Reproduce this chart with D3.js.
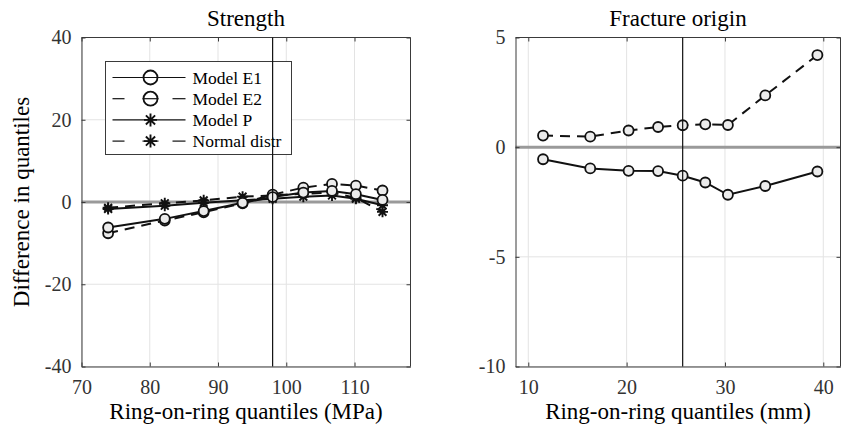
<!DOCTYPE html>
<html>
<head>
<meta charset="utf-8">
<script src="https://cdn.jsdelivr.net/npm/d3@7"></script>
<style>
  body { margin: 0; background: #fff; }
</style>
</head>
<body>
<svg id="chart" width="846" height="430" font-family="Liberation Serif"></svg>
<script>
// strength panel (MPa)
const strengthX = [73.9, 82.2, 87.9, 93.6, 98.0, 102.5, 106.7, 110.2, 114.1];
const strengthE1 = [-6.2, -4.1, -2.2, -0.2, 1.2, 2.3, 2.7, 1.9, 0.5];
const strengthE2 = [-7.6, -4.5, -2.5, -0.3, 1.8, 3.5, 4.4, 4.0, 2.8];
const strengthP = [-1.7, -0.9, -0.2, 0.4, 0.8, 1.3, 1.6, 0.8, -0.8];
const strengthNormal = [-1.4, -0.3, 0.4, 1.3, 1.6, 2.0, 2.3, 1.0, -2.4];
const strengthMedian = 98.0;

// fracture origin panel (mm)
const originX = [11.5, 16.3, 20.2, 23.2, 25.7, 28.0, 30.3, 34.1, 39.4];
const originE1 = [-0.55, -0.97, -1.08, -1.09, -1.30, -1.61, -2.17, -1.77, -1.11];
const originE2 = [0.53, 0.48, 0.76, 0.92, 1.0, 1.04, 1.01, 2.36, 4.2];
const originMedian = 25.7;

const strengthXTicks = [70, 80, 90, 100, 110];
const strengthYTicks = [-40, -20, 0, 20, 40];
const originXTicks = [10, 20, 30, 40];
const originYTicks = [-10, -5, 0, 5];

const legendLabels = ['Model E1', 'Model E2', 'Model P', 'Normal distr'];

const svg = d3.select('#chart');
const serif = 'Liberation Serif';
const axisColor = '#3a3a3a';
const dash = '10,7';

const starPath = r => {
  const d = r * 0.7071;
  return `M0,${-r}L0,${r}M${-r},0L${r},0M${-d},${-d}L${d},${d}M${-d},${d}L${d},${-d}`;
};

const drawMarker = (g, x, y, type, r, fill) => {
  if (type === 'circle') {
    g.append('circle')
      .attr('cx', x)
      .attr('cy', y)
      .attr('r', r)
      .attr('fill', fill)
      .attr('stroke', '#111')
      .attr('stroke-width', 1.8);
  } else {
    g.append('path')
      .attr('transform', `translate(${x},${y})`)
      .attr('d', starPath(r))
      .attr('fill', 'none')
      .attr('stroke', '#111')
      .attr('stroke-width', 1.9);
  }
};

const medianLines = [];

const drawPanel = opts => {
  const { left, right, top, bottom, xDomain, yDomain, xTicks, yTicks } = opts;
  const x = d3.scaleLinear().domain(xDomain).range([left, right]);
  const y = d3.scaleLinear().domain(yDomain).range([bottom, top]);
  const g = svg.append('g');

  // grid
  g.selectAll('line.gx')
    .data(xTicks)
    .enter()
    .append('line')
    .attr('x1', d => x(d))
    .attr('x2', d => x(d))
    .attr('y1', top)
    .attr('y2', bottom)
    .attr('stroke', '#e3e3e3');
  g.selectAll('line.gy')
    .data(yTicks)
    .enter()
    .append('line')
    .attr('x1', left)
    .attr('x2', right)
    .attr('y1', d => y(d))
    .attr('y2', d => y(d))
    .attr('stroke', '#e3e3e3');

  // zero line
  g.append('line')
    .attr('x1', left)
    .attr('x2', right)
    .attr('y1', y(0))
    .attr('y2', y(0))
    .attr('stroke', '#9a9a9a')
    .attr('stroke-width', 3);

  // axes (plain hyphen for negatives, like the original)
  const fmt = d => String(d);
  const xAxis = g.append('g')
    .attr('transform', `translate(0,${bottom})`)
    .call(d3.axisBottom(x).tickValues(xTicks).tickFormat(fmt).tickSizeInner(-4).tickSizeOuter(0).tickPadding(13));
  const yAxis = g.append('g')
    .attr('transform', `translate(${left},0)`)
    .call(d3.axisLeft(y).tickValues(yTicks).tickFormat(fmt).tickSizeInner(-4).tickSizeOuter(0).tickPadding(10));
  [xAxis, yAxis].forEach(a => {
    a.attr('font-family', serif).attr('font-size', 20);
    a.select('.domain').attr('stroke', axisColor);
    a.selectAll('.tick line').attr('stroke', axisColor);
    a.selectAll('.tick text').attr('fill', '#333');
  });
  g.append('line')
    .attr('x1', left).attr('x2', right).attr('y1', top).attr('y2', top)
    .attr('stroke', axisColor);
  g.append('line')
    .attr('x1', right).attr('x2', right).attr('y1', top).attr('y2', bottom)
    .attr('stroke', axisColor);
  xAxis.selectAll('.tick')
    .append('line')
    .attr('y1', top - bottom)
    .attr('y2', top - bottom + 4)
    .attr('stroke', axisColor);
  yAxis.selectAll('.tick')
    .append('line')
    .attr('x1', right - left)
    .attr('x2', right - left - 4)
    .attr('stroke', axisColor);

  // series
  const line = d3.line().x(d => x(d[0])).y(d => y(d[1]));
  opts.series.forEach(s => {
    const pts = opts.xs.map((v, i) => [v, s.values[i]]);
    g.append('path')
      .attr('d', line(pts))
      .attr('fill', 'none')
      .attr('stroke', '#111')
      .attr('stroke-width', 2)
      .attr('stroke-dasharray', s.dashed ? dash : null);
    pts.forEach(p => drawMarker(g, x(p[0]), y(p[1]), s.marker, s.marker === 'circle' ? 5 : 5.5, '#ececec'));
  });

  // median line is drawn last, over the legend
  medianLines.push({ x: x(opts.median), top, bottom });

  // text
  svg.append('text')
    .attr('x', (left + right) / 2)
    .attr('y', top - 11.5)
    .attr('text-anchor', 'middle')
    .attr('font-family', serif)
    .attr('font-size', 23)
    .text(opts.title);
  svg.append('text')
    .attr('x', (left + right) / 2)
    .attr('y', bottom + 52)
    .attr('text-anchor', 'middle')
    .attr('font-family', serif)
    .attr('font-size', 23)
    .text(opts.xLabel);
  return g;
};

drawPanel({
  left: 81.5, right: 410.5, top: 37.5, bottom: 366.5,
  xDomain: [70, 118.2], yDomain: [-40, 40],
  xTicks: strengthXTicks, yTicks: strengthYTicks,
  median: strengthMedian,
  xs: strengthX,
  title: 'Strength',
  xLabel: 'Ring-on-ring quantiles (MPa)',
  series: [
    { values: strengthNormal, dashed: true, marker: 'star' },
    { values: strengthP, dashed: false, marker: 'star' },
    { values: strengthE2, dashed: true, marker: 'circle' },
    { values: strengthE1, dashed: false, marker: 'circle' },
  ],
});

drawPanel({
  left: 515.5, right: 840.5, top: 37.5, bottom: 366.5,
  xDomain: [8.7, 41.75], yDomain: [-10, 5],
  xTicks: originXTicks, yTicks: originYTicks,
  median: originMedian,
  xs: originX,
  title: 'Fracture origin',
  xLabel: 'Ring-on-ring quantiles (mm)',
  series: [
    { values: originE2, dashed: true, marker: 'circle' },
    { values: originE1, dashed: false, marker: 'circle' },
  ],
});

svg.append('text')
  .attr('transform', 'translate(29,202) rotate(-90)')
  .attr('text-anchor', 'middle')
  .attr('font-family', serif)
  .attr('font-size', 23)
  .text('Difference in quantiles');

// legend
const legend = svg.append('g').attr('transform', 'translate(105.5,61.5)');
legend.append('rect')
  .attr('width', 186)
  .attr('height', 93)
  .attr('fill', '#fff')
  .attr('stroke', axisColor);
const legendStyle = [
  { dashed: false, marker: 'circle' },
  { dashed: true, marker: 'circle' },
  { dashed: false, marker: 'star' },
  { dashed: true, marker: 'star' },
];
legendLabels.forEach((label, i) => {
  const ly = 16 + i * 21.2;
  const row = legend.append('g');
  if (legendStyle[i].dashed) {
    [[7, 19], [37, 53], [67, 80]].forEach(seg => {
      row.append('line')
        .attr('x1', seg[0]).attr('x2', seg[1]).attr('y1', ly).attr('y2', ly)
        .attr('stroke', '#111').attr('stroke-width', 1.2);
    });
  } else {
    row.append('line')
      .attr('x1', 7).attr('x2', 80).attr('y1', ly).attr('y2', ly)
      .attr('stroke', '#111').attr('stroke-width', 1.2);
  }
  drawMarker(row, 45, ly, legendStyle[i].marker, legendStyle[i].marker === 'circle' ? 7 : 6.5, 'none');
  row.append('text')
    .attr('x', 87)
    .attr('y', ly + 6)
    .attr('font-family', serif)
    .attr('font-size', 17.5)
    .text(label);
});

medianLines.forEach(m => {
  svg.append('line')
    .attr('x1', m.x)
    .attr('x2', m.x)
    .attr('y1', m.top)
    .attr('y2', m.bottom)
    .attr('stroke', '#111')
    .attr('stroke-width', 1.2);
});
</script>
</body>
</html>
